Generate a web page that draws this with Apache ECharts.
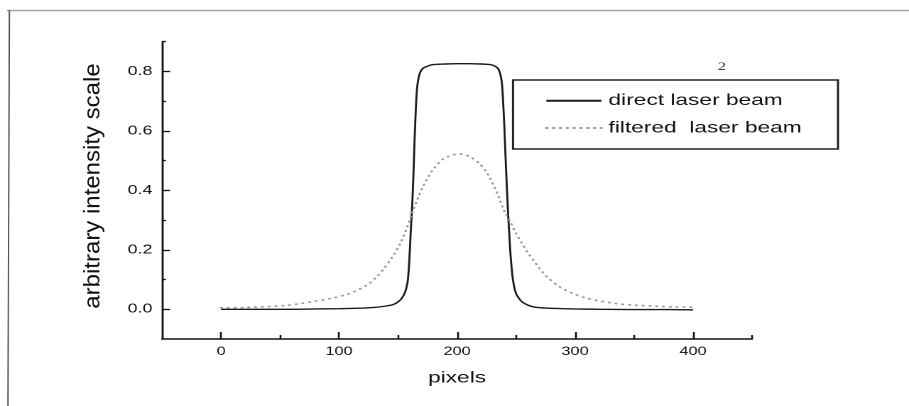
<!DOCTYPE html>
<html>
<head>
<meta charset="utf-8">
<script src="https://cdn.jsdelivr.net/npm/echarts@6/dist/echarts.min.js"></script>
<style>
  html, body { margin: 0; padding: 0; background: #fff; }
  #wrap { width: 909px; height: 406px; overflow: hidden; position: relative; }
  /* the whole figure is drawn at a narrower width and widened horizontally */
  #chart { width: 640px; height: 406px; transform: scaleX(1.4203125); transform-origin: 0 0; }
</style>
</head>
<body>
<div id="wrap"><div id="chart"></div></div>
<script>
// Beam profile across the detector, direct beam
const directX = [0, 20, 40, 60, 80, 100, 120, 130, 140, 146, 150, 153, 156, 158, 159, 160, 161, 162, 163, 164, 165, 166, 167, 168.5, 171, 175, 180, 190, 200, 210, 220, 228, 232, 235, 237, 238, 239, 240, 241, 242, 243, 244, 245, 246, 247, 249, 251, 255, 260, 265, 275, 290, 300, 320, 350, 380, 400];
const directY = [0.000, 0.000, 0.000, 0.000, 0.001, 0.002, 0.004, 0.006, 0.011, 0.016, 0.025, 0.036, 0.058, 0.090, 0.130, 0.200, 0.280, 0.350, 0.450, 0.570, 0.670, 0.740, 0.770, 0.795, 0.810, 0.818, 0.823, 0.825, 0.826, 0.826, 0.825, 0.823, 0.818, 0.808, 0.785, 0.760, 0.700, 0.620, 0.520, 0.430, 0.340, 0.270, 0.200, 0.150, 0.110, 0.065, 0.045, 0.025, 0.014, 0.008, 0.004, 0.002, 0.001, 0.000, -0.001, -0.001, -0.002];

// Beam profile after the filter
const filteredX = [0, 20, 40, 55, 67, 80, 95, 109, 123, 131, 138, 145, 152, 158, 163, 168, 172, 176, 180, 188, 197, 203, 211, 219, 226, 234, 240, 245, 250, 255, 260, 265, 270, 276, 287, 299, 310, 321, 335, 350, 370, 385, 400];
const filteredY = [0.005, 0.006, 0.009, 0.013, 0.019, 0.027, 0.038, 0.053, 0.080, 0.105, 0.137, 0.175, 0.222, 0.280, 0.335, 0.385, 0.420, 0.448, 0.472, 0.505, 0.520, 0.522, 0.513, 0.490, 0.455, 0.390, 0.330, 0.295, 0.255, 0.222, 0.190, 0.163, 0.137, 0.110, 0.075, 0.052, 0.037, 0.028, 0.019, 0.014, 0.010, 0.008, 0.007];

// Axis ticks
const xMajorTicks = [0, 100, 200, 300, 400];
const xMinorTicks = [50, 150, 250, 350, 450];
const yMajorTicks = [0, 0.2, 0.4, 0.6, 0.8];
const yMinorTicks = [0.1, 0.3, 0.5, 0.7, 0.9];

const seriesNames = ['direct laser beam', 'filtered  laser beam'];
const yTitle = 'arbitrary intensity scale';
const xTitle = 'pixels';
const figureNumber = '2';

const pairs = (xs, ys) => xs.map((x, i) => [x, ys[i]]);

const chart = echarts.init(document.getElementById('chart'), null, { renderer: 'canvas', devicePixelRatio: 2 });

const FONT = '"Liberation Sans", Arial, sans-serif';
const axisCommon = { type: 'value', splitLine: { show: false } };

chart.setOption({
  animation: false,
  backgroundColor: '#fff',
  grid: { left: 114.1, right: 110.5, top: 41.7, bottom: 67, containLabel: false },
  xAxis: [
    Object.assign({}, axisCommon, {
      min: -50, max: 450, position: 'bottom',
      name: xTitle, nameLocation: 'middle', nameGap: 31,
      nameTextStyle: { fontFamily: FONT, fontSize: 16, color: '#111' },
      axisLine: { show: true, onZero: false, lineStyle: { color: '#111', width: 1.5 } },
      axisTick: { show: true, inside: true, length: 7, customValues: xMajorTicks, lineStyle: { color: '#111', width: 1.3 } },
      axisLabel: { show: true, customValues: xMajorTicks, margin: 7, fontFamily: FONT, fontSize: 11.5, color: '#111' }
    }),
    Object.assign({}, axisCommon, {
      min: -50, max: 450, position: 'bottom', offset: 0,
      axisLine: { show: false, onZero: false },
      axisTick: { show: true, inside: true, length: 4, customValues: xMinorTicks, lineStyle: { color: '#111', width: 1.3 } },
      axisLabel: { show: false }
    })
  ],
  yAxis: [
    Object.assign({}, axisCommon, {
      min: -0.1, max: 0.9, position: 'left',
      axisLine: { show: true, onZero: false, lineStyle: { color: '#111', width: 1.4 } },
      axisTick: { show: true, inside: true, length: 5.6, customValues: yMajorTicks, lineStyle: { color: '#111', width: 1.3 } },
      axisLabel: { show: true, customValues: yMajorTicks, margin: 6.8, fontFamily: FONT, fontSize: 12.5, color: '#111',
        formatter: v => v.toFixed(1) }
    }),
    Object.assign({}, axisCommon, {
      min: -0.1, max: 0.9, position: 'left', offset: 0,
      axisLine: { show: false, onZero: false },
      axisTick: { show: true, inside: true, length: 2.8, customValues: yMinorTicks, lineStyle: { color: '#111', width: 1.3 } },
      axisLabel: { show: false }
    })
  ],
  legend: {
    orient: 'vertical', left: 383.7, top: 91.7, padding: 0,
    itemWidth: 38.7, itemHeight: 14, itemGap: 9.3, icon: 'inherit',
    itemStyle: { opacity: 0 },
    textStyle: { fontFamily: FONT, fontSize: 16, color: '#111', lineHeight: 18 },
    data: seriesNames
  },
  series: [
    {
      name: seriesNames[0], type: 'line', xAxisIndex: 0, yAxisIndex: 0,
      data: pairs(directX, directY), showSymbol: false, symbol: 'none', smooth: 0.2,
      lineStyle: { color: '#1a1a1a', width: 1.4 }, itemStyle: { color: '#1a1a1a' }
    },
    {
      name: seriesNames[1], type: 'line', xAxisIndex: 0, yAxisIndex: 0,
      data: pairs(filteredX, filteredY), showSymbol: false, symbol: 'none', smooth: 0.3,
      lineStyle: { color: '#9a9a9a', width: 1.7, type: [0.6, 4.2], cap: 'round' }, itemStyle: { color: '#9a9a9a' }
    }
  ],
  graphic: [
    // page frame
    { type: 'line', shape: { x1: 5, y1: 10.5, x2: 640, y2: 10.5 }, style: { stroke: '#a8a8a8', lineWidth: 1.4 }, silent: true },
    { type: 'line', shape: { x1: 6.6, y1: 10, x2: 5.6, y2: 406 }, style: { stroke: '#555', lineWidth: 1 }, silent: true },
    // legend frame
    { type: 'rect', shape: { x: 361.2, y: 80, width: 228.8, height: 69 }, style: { fill: null, stroke: '#222', lineWidth: 1.5 }, silent: true },
    // figure number
    { type: 'text', x: 508.2, y: 66.7, silent: true,
      style: { text: figureNumber, font: '12px "Liberation Serif", serif', fill: '#333',
        textAlign: 'center', textVerticalAlign: 'middle', align: 'center', verticalAlign: 'middle' } },
    // y axis title
    { type: 'text', x: 65.5, y: 186, rotation: Math.PI / 2, scaleX: 1.5, scaleY: 1, silent: true,
      style: { text: yTitle, font: '16px "Liberation Sans", Arial, sans-serif', fill: '#111',
        textAlign: 'center', textVerticalAlign: 'middle', align: 'center', verticalAlign: 'middle' } }
  ]
});
</script>
</body>
</html>
